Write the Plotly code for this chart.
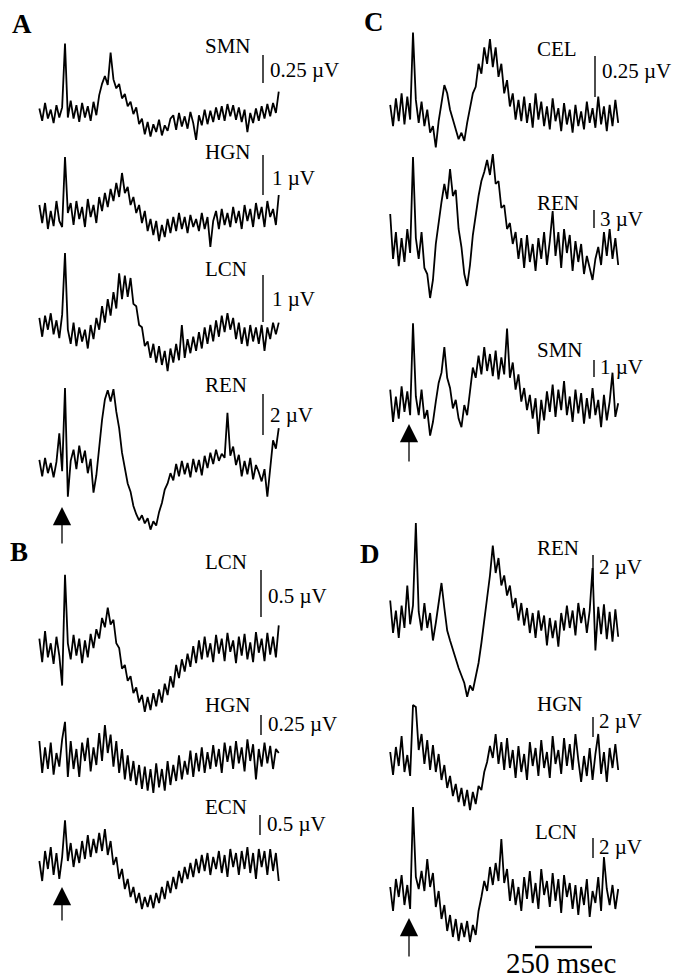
import plotly.graph_objects as go

# ---------------- data (µV) ----------------
DT_MS = 12.5
T_START_AB = -112.5     # first sample time in panels A and B (stimulus at 0 ms)
T_START_CD = -100.0     # first sample time in panels C and D

A_SMN = [0.04, -0.07, 0.09, -0.05, 0.03, -0.09, 0.07, -0.04, 0.05, 0.62,
         -0.04, 0.11, -0.05, 0.07, -0.08, 0.09, -0.04, 0.06, -0.07, 0.10,
         -0.02, 0.16, 0.26, 0.33, 0.25, 0.54, 0.30, 0.22, 0.26, 0.13,
         0.17, 0.06, 0.10, -0.01, 0.05, -0.10, -0.05, -0.19, -0.08, -0.21,
         -0.10, -0.17, -0.06, -0.20, -0.11, -0.16, -0.05, -0.02, -0.15, 0.00,
         -0.12, -0.03, -0.14, 0.01, -0.09, -0.24, -0.02, -0.11, 0.03, -0.10,
         0.02, -0.08, 0.05, -0.06, 0.06, -0.07, 0.08, -0.03, 0.07, -0.06,
         0.05, -0.08, 0.03, -0.17, 0.00, -0.09, 0.04, -0.07, 0.06, -0.05,
         0.08, -0.03, 0.09, 0.00, 0.19]

A_HGN = [0.25, -0.20, 0.30, -0.35, 0.10, -0.28, 0.35, -0.15, -0.30, 1.45,
         0.05, 0.30, -0.25, 0.35, -0.10, 0.20, -0.30, 0.40, -0.05, 0.25,
         -0.20, 0.45, 0.10, 0.55, 0.20, 0.65, 0.35, 0.80, 0.45, 1.05,
         0.55, 0.70, 0.25, 0.45, 0.05, 0.25, -0.20, 0.10, -0.40, -0.10,
         -0.50, -0.15, -0.65, -0.25, -0.55, -0.10, -0.45, -0.05, -0.40, 0.05,
         -0.35, -0.05, -0.45, 0.00, -0.30, -0.10, -0.40, 0.05, -0.35, -0.05,
         -0.80, -0.15, 0.10, -0.35, 0.15, -0.25, 0.05, -0.30, 0.20, -0.20,
         0.10, -0.35, 0.25, -0.15, 0.15, -0.30, 0.30, -0.10, 0.20, -0.30,
         0.35, -0.05, 0.15, -0.25, 0.50]

A_LCN = [0.15, -0.25, 0.20, -0.10, 0.25, -0.20, 0.10, -0.28, 0.22, 1.53,
         -0.10, -0.40, 0.05, -0.45, -0.05, -0.35, -0.10, -0.50, 0.00, -0.30,
         0.15, -0.10, 0.40, 0.05, 0.55, 0.20, 0.70, 0.35, 1.10, 0.55,
         1.05, 0.60, 1.00, 0.45, 0.40, 0.00, -0.05, -0.45, -0.35, -0.70,
         -0.40, -0.80, -0.45, -0.85, -0.55, -0.98, -0.50, -0.80, -0.40, -0.75,
         0.00, -0.70, -0.30, -0.60, -0.25, -0.55, -0.15, -0.50, -0.05, -0.40,
         0.00, -0.35, 0.10, -0.25, 0.20, -0.15, 0.25, -0.10, 0.15, -0.30,
         0.05, -0.40, -0.05, -0.45, 0.00, -0.35, -0.05, -0.40, 0.00, -0.55,
         -0.05, -0.30, 0.05, -0.20, 0.05]

A_REN = [0.25, -0.55, 0.35, -0.40, 0.10, -0.60, 0.15, 1.55, -0.30, 3.75,
         -1.55, 0.20, 0.75, -0.20, 0.95, 0.10, 0.70, -0.40, 0.30, -1.35,
         -0.50, 0.90, 2.20, 3.20, 3.65, 3.10, 3.70, 2.60, 1.80, 0.60,
         -0.20, -0.90, -1.30, -2.00, -2.40, -2.70, -2.45, -2.85, -2.60, -3.15,
         -2.75, -2.95, -2.30, -1.85, -1.20, -0.90, -0.40, -0.75, 0.05, -0.55,
         0.20, -0.45, 0.10, -0.60, 0.30, -0.35, 0.25, -0.50, 0.45, -0.15,
         0.60, 0.05, 0.75, 0.20, 0.55, 0.35, 2.55, 0.45, 0.90, 0.00,
         0.50, -0.55, 0.20, -0.45, 0.35, -0.70, 0.00, -0.35, -0.80, -0.20,
         -1.55, -0.10, 1.20, 0.80, 1.80]

B_LCN = [0.10, -0.15, 0.18, -0.10, 0.05, -0.17, 0.12, -0.08, -0.40, 0.78,
         0.05, -0.12, 0.14, -0.08, 0.10, -0.16, 0.08, -0.10, 0.15, 0.00,
         0.20, 0.10, 0.32, 0.22, 0.43, 0.25, 0.30, 0.05, 0.00, -0.22,
         -0.18, -0.35, -0.30, -0.48, -0.42, -0.58, -0.50, -0.68, -0.52, -0.66,
         -0.48, -0.62, -0.44, -0.58, -0.38, -0.50, -0.30, -0.42, -0.18, -0.32,
         -0.12, -0.25, -0.06, -0.20, 0.02, -0.16, 0.08, -0.12, 0.12, -0.10,
         0.05, -0.15, 0.14, -0.06, 0.10, -0.14, 0.16, -0.04, 0.08, -0.16,
         0.12, -0.08, 0.15, -0.12, 0.06, -0.15, 0.17, -0.05, 0.10, -0.14,
         0.16, -0.07, 0.12, -0.10, 0.24]

B_HGN = [0.20, -0.20, 0.12, -0.15, 0.18, -0.22, 0.05, -0.12, 0.22, 0.44,
         -0.25, 0.20, -0.15, 0.10, -0.25, 0.18, -0.05, 0.24, -0.18, 0.12,
         -0.10, 0.30, -0.05, 0.40, 0.05, 0.28, -0.12, 0.20, -0.20, 0.10,
         -0.28, 0.02, -0.30, -0.05, -0.35, -0.10, -0.40, -0.12, -0.42, -0.15,
         -0.45, -0.08, -0.38, -0.15, -0.42, -0.05, -0.35, -0.10, -0.30, 0.02,
         -0.28, -0.05, -0.22, 0.08, -0.25, 0.05, -0.18, 0.12, -0.20, 0.06,
         -0.15, 0.15, -0.12, 0.10, -0.20, 0.18, -0.06, 0.14, -0.15, 0.20,
         -0.08, 0.12, -0.18, 0.22, -0.05, 0.16, -0.28, 0.10, -0.12, 0.18,
         -0.08, 0.14, -0.15, 0.10, 0.05]

B_ECN = [0.10, -0.40, 0.35, -0.10, 0.45, -0.25, 0.30, -0.35, 0.20, 1.12,
         0.10, 0.55, -0.05, 0.40, 0.05, 0.60, 0.15, 0.75, 0.20, 0.65,
         0.30, 0.80, 0.35, 0.90, 0.25, 0.60, 0.00, 0.20, -0.35, -0.10,
         -0.60, -0.35, -0.80, -0.55, -0.95, -0.70, -1.10, -0.80, -1.05, -0.75,
         -1.08, -0.70, -0.95, -0.55, -0.85, -0.40, -0.70, -0.30, -0.60, -0.15,
         -0.45, -0.05, -0.35, 0.05, -0.30, 0.15, -0.20, 0.25, -0.15, 0.30,
         -0.25, 0.20, -0.10, 0.35, -0.20, 0.25, -0.30, 0.40, -0.05, 0.30,
         -0.25, 0.35, -0.10, 0.45, -0.20, 0.30, -0.35, 0.40, -0.05, 0.35,
         -0.25, 0.40, -0.15, 0.30, -0.40]

C_CEL = [0.05, -0.08, 0.09, -0.05, 0.12, -0.07, 0.10, -0.04, 0.49, 0.08,
         -0.06, 0.07, -0.08, 0.02, -0.12, -0.08, -0.21, -0.05, 0.06, 0.17,
         0.12, 0.02, -0.04, -0.10, -0.16, -0.12, -0.17, -0.06, 0.02, 0.12,
         0.16, 0.30, 0.24, 0.40, 0.30, 0.45, 0.28, 0.40, 0.22, 0.30,
         0.12, 0.20, 0.04, 0.12, -0.04, 0.08, -0.05, 0.10, -0.06, 0.06,
         -0.09, 0.12, -0.04, 0.07, -0.08, 0.04, -0.10, 0.09, -0.05, 0.03,
         -0.11, 0.06, -0.07, 0.02, -0.12, 0.05, -0.08, 0.01, -0.10, 0.07,
         -0.06, 0.03, -0.09, 0.10, -0.07, 0.04, -0.11, 0.05, -0.08, 0.08,
         -0.06]

C_REN = [5.5, -2.0, 2.5, -3.2, 1.5, -2.5, 3.0, -1.0, 15.0, 1.5,
         -2.0, 2.5, -3.5, -4.5, -8.5, -5.5, 0.5, 4.5, 7.5, 10.5,
         8.0, 13.0, 8.5, 9.5, 3.0, 0.0, -4.5, -6.5, -3.0, 2.0,
         5.5, 8.5, 11.0, 12.5, 14.5, 12.0, 15.5, 10.5, 11.0, 6.5,
         7.0, 3.0, 4.0, 0.5, 2.5, -2.0, 1.5, -3.5, 2.0, -2.5,
         0.5, -4.0, 1.5, -2.0, 2.5, -3.0, 1.0, 6.0, -1.5, 2.5,
         -3.5, 3.0, -1.0, 2.0, -4.0, 1.0, -2.5, 0.5, -4.5, -1.5,
         -3.5, -5.5, -2.0, 0.0, -3.0, 2.5, -1.5, 3.0, -2.0, 1.5,
         -3.0]

C_SMN = [0.9, -1.0, 0.5, -0.8, 1.1, -0.4, 0.8, -0.6, 4.8, 0.5,
         -0.6, 0.9, -0.8, -0.3, -1.8, -1.0, 0.2, 1.3, 1.9, 3.4,
         1.6, 1.0, -0.2, 0.3, -0.8, -1.3, 0.0, -0.6, 0.8, 2.2,
         1.6, 2.9, 1.8, 3.4, 2.0, 3.0, 1.7, 3.2, 1.5, 2.8,
         1.8, 4.5, 1.6, 2.5, 0.9, 1.8, 0.2, 1.0, -0.3, 0.6,
         -0.8, 0.4, -1.7, 0.3, -0.9, 0.8, -0.4, 1.2, -0.7, 0.9,
         -0.3, 1.4, -0.6, 0.5, -1.0, 0.9, -0.5, 0.7, -1.1, 0.4,
         -0.8, 1.0, -0.6, 0.3, -1.3, 0.6, -0.9, 0.2, 1.9, -0.7,
         0.1]

D_REN = [1.4, -1.2, 0.6, -1.6, 1.0, -0.8, 2.6, -0.5, 1.0, 7.6,
         0.5, -1.0, 1.2, -0.8, 0.4, -1.8, -0.4, 1.2, 2.8, 0.8,
         -1.0, -1.8, -2.6, -3.4, -4.0, -4.6, -5.2, -6.3, -5.4, -5.8,
         -4.6, -3.6, -2.0, -0.4, 1.6, 3.4, 5.8, 3.6, 4.8, 2.6,
         3.4, 1.8, 2.6, 0.8, 1.6, -0.2, 1.2, -0.6, 0.8, -1.2,
         0.4, -1.6, 0.6, -1.0, 0.2, -2.2, 0.0, -1.6, -0.2, -2.3,
         0.4, -1.0, 1.0, -0.8, 0.6, -1.4, 1.2, -0.4, 0.8, -1.2,
         0.6, 4.0, -2.6, 0.9, -1.3, 1.1, -1.7, 0.5, -1.9, 0.7,
         -1.5]

D_HGN = [0.8, -1.5, 1.3, -0.6, 2.4, -1.2, 0.5, -1.6, 5.5, 5.3,
         1.0, 2.6, -0.4, 2.0, -1.0, 1.5, -1.2, 0.6, -2.0, -0.5,
         -2.8, -1.6, -3.6, -2.4, -4.2, -2.8, -4.6, -3.0, -5.0, -3.2,
         -4.4, -2.6, -3.0, -1.2, -0.2, 1.4, 0.2, 2.6, -0.4, 1.8,
         -1.0, 2.2, -0.8, 1.0, -1.8, 1.4, -1.2, 0.6, -2.0, 1.8,
         -0.6, 1.2, -1.6, 2.0, -0.8, 0.8, -1.8, 2.4, -0.4, 1.0,
         -1.4, 2.2, -0.6, 1.6, -1.0, 2.6, 0.0, -2.2, 0.4, -1.6,
         1.2, -2.0, 0.6, 2.6, -1.4, 0.8, -2.2, 1.2, -0.8, 1.6,
         -1.0]

D_LCN = [0.6, -1.8, 1.4, -0.4, 1.8, -1.2, 0.8, -1.6, 8.6, 1.6,
         0.4, 2.2, 0.2, 3.4, 0.6, 2.0, -1.4, 0.2, -2.6, -1.2,
         -3.8, -2.2, -4.4, -2.6, -4.8, -3.0, -4.4, -2.8, -4.9, -3.2,
         -4.2, -1.8, -0.4, 1.2, 0.2, 2.6, 0.8, 3.0, 1.2, 5.4,
         1.0, 2.4, -0.8, 1.4, -1.2, 0.6, -1.8, 1.6, -0.6, 2.2,
         -1.0, 1.0, -1.6, 2.4, -0.2, 1.2, -1.4, 2.0, -0.8, 1.4,
         -2.0, 1.8, -0.4, 1.0, -1.6, 0.8, -2.2, 0.6, -1.2, 1.4,
         -2.4, 0.2, -1.0, 1.6, -1.8, 3.6, 0.4, -1.2, 0.8, -1.6,
         0.4]

SCALE_MS = 250          # time calibration bar
SCALE_MS_TEXT = "250 msec"

# ---------------- layout (pixel placement of each trace) ----------------
W, H = 682, 978
PX_PER_MS = 0.228
X0_AB, X0_CD = 65, 413          # pixel x of the stimulus (t = 0) per column
FONT = "Liberation Serif"
TRACE_WIDTH = 1.8

TRACES = [
    # data, column, baseline px, px per µV, label, label pos, scale µV, scale text, bar (x, bottom), text pos
    (A_SMN, "AB", 113, 112, "SMN", (203, 46), 0.25, "0.25 µV", (263, 83), (268, 70)),
    (A_HGN, "AB", 215, 40, "HGN", (203, 152), 1, "1 µV", (263, 195), (270, 178)),
    (A_LCN, "AB", 325, 47, "LCN", (203, 269), 1, "1 µV", (263, 322), (270, 299)),
    (A_REN, "AB", 465, 20.5, "REN", (203, 385), 2, "2 µV", (263, 435), (268, 415)),
    (B_LCN, "AB", 648, 94, "LCN", (203, 562), 0.5, "0.5 µV", (261, 617), (266, 596)),
    (B_HGN, "AB", 757, 80, "HGN", (203, 705), 0.25, "0.25 µV", (261, 735), (266, 724)),
    (B_ECN, "AB", 865, 40, "ECN", (203, 807), 0.5, "0.5 µV", (260, 835), (265, 824)),
    (C_CEL, "CD", 113, 164, "CEL", (535, 49), 0.25, "0.25 µV", (595, 97), (600, 71)),
    (C_REN, "CD", 247, 6, "REN", (535, 203), 3, "3 µV", (594, 228), (598, 219)),
    (C_SMN, "CD", 405, 17, "SMN", (535, 350), 1, "1 µV", (594, 377), (598, 367)),
    (D_REN, "CD", 618, 12.5, "REN", (535, 548), 2, "2 µV", (593, 580), (597, 567)),
    (D_HGN, "CD", 760, 10, "HGN", (535, 704), 2, "2 µV", (593, 737), (597, 721)),
    (D_LCN, "CD", 893, 10, "LCN", (533, 832), 2, "2 µV", (593, 858), (597, 847)),
]

PANEL_LETTERS = [("A", (22, 24)), ("B", (19, 552)), ("C", (374, 22)), ("D", (370, 554))]
ARROWS = [((62, 507), 38), ((62, 887), 35), ((409, 424), 39), ((409, 918), 40)]


def px(x):
    return x / W


def py(y):
    return 1 - y / H


fig = go.Figure()
axes = {}
shapes = []
annots = []

for j, (data, col, base, k, lab, lpos, sv, stext, bar, tpos) in enumerate(TRACES):
    n = j + 1
    yname = "y" if n == 1 else f"y{n}"
    t0 = T_START_AB if col == "AB" else T_START_CD
    times = [t0 + DT_MS * i for i in range(len(data))]
    fig.add_trace(go.Scatter(
        x=times, y=data, mode="lines",
        line=dict(color="black", width=TRACE_WIDTH),
        xaxis="x" if col == "AB" else "x2", yaxis=yname,
        hoverinfo="skip", showlegend=False))
    ax = dict(range=[(base - H) / k, base / k], visible=False, fixedrange=True)
    if n == 1:
        ax["domain"] = [0, 1]
    else:
        ax["overlaying"] = "y"
    axes["yaxis" if n == 1 else f"yaxis{n}"] = ax
    # amplitude calibration bar, drawn in the trace's own µV scale
    y_bot = (base - bar[1]) / k
    shapes.append(dict(type="line", xref="paper", yref=yname,
                       x0=px(bar[0]), x1=px(bar[0]), y0=y_bot, y1=y_bot + sv,
                       line=dict(color="black", width=1.4)))
    annots.append(dict(text=lab, x=px(lpos[0]), y=py(lpos[1]), xref="paper", yref="paper",
                       xanchor="left", yanchor="middle", showarrow=False,
                       font=dict(family=FONT, size=21, color="black")))
    annots.append(dict(text=stext, x=px(tpos[0]), y=py(tpos[1]), xref="paper", yref="paper",
                       xanchor="left", yanchor="middle", showarrow=False,
                       font=dict(family=FONT, size=21, color="black")))

for letter, (lx, ly) in PANEL_LETTERS:
    annots.append(dict(text=f"<b>{letter}</b>", x=px(lx), y=py(ly), xref="paper", yref="paper",
                       xanchor="center", yanchor="middle", showarrow=False,
                       font=dict(family=FONT, size=27, color="black")))

for (ax_, ay_), length in ARROWS:
    annots.append(dict(text="", x=px(ax_), y=py(ay_), xref="paper", yref="paper",
                       showarrow=True, ax=0, ay=length, arrowhead=2, arrowsize=2.8,
                       arrowwidth=1.3, arrowcolor="black", standoff=0))

# time calibration bar in panel D (in ms on the C/D time axis)
bar_t0 = (535 - X0_CD) / PX_PER_MS
shapes.append(dict(type="line", xref="x2", yref="paper",
                   x0=bar_t0, x1=bar_t0 + SCALE_MS, y0=py(947), y1=py(947),
                   line=dict(color="black", width=2.5)))
annots.append(dict(text=SCALE_MS_TEXT, x=px(561), y=py(963), xref="paper", yref="paper",
                   xanchor="center", yanchor="middle", showarrow=False,
                   font=dict(family=FONT, size=29, color="black")))

fig.update_layout(
    width=W, height=H, autosize=False,
    margin=dict(l=0, r=0, t=0, b=0, pad=0),
    paper_bgcolor="white", plot_bgcolor="white",
    showlegend=False,
    xaxis=dict(range=[-X0_AB / PX_PER_MS, (W - X0_AB) / PX_PER_MS], domain=[0, 1],
               visible=False, fixedrange=True),
    xaxis2=dict(range=[-X0_CD / PX_PER_MS, (W - X0_CD) / PX_PER_MS], overlaying="x",
                visible=False, fixedrange=True),
    shapes=shapes, annotations=annots,
    **axes,
)

fig.write_html("out.html", config={"displayModeBar": False})
